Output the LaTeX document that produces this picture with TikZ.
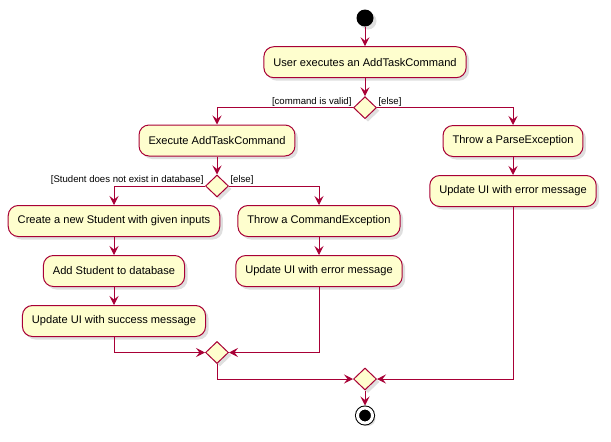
\documentclass[tikz,border=0pt]{standalone}
\usepackage{fontspec}
\setmainfont{Liberation Sans}
\usetikzlibrary{arrows.meta,positioning,shapes.geometric,shadows}
\definecolor{umlred}{RGB}{168,0,54}
\definecolor{umlfill}{RGB}{254,254,206}
\tikzset{
    shadowed/.style={drop shadow={shadow xshift=3pt,shadow yshift=-3pt,opacity=0.25}},
    activity/.style={rectangle,rounded corners=10pt,draw=umlred,fill=umlfill,line width=1pt,minimum height=31pt,inner xsep=9.5pt,font=\fontsize{11.1}{13}\selectfont,shadowed},
    decision/.style={diamond,aspect=1,draw=umlred,fill=umlfill,line width=1pt,minimum width=23pt,minimum height=22pt,inner sep=0pt,shadowed},
    startdot/.style={circle,fill=black,minimum size=17pt,inner sep=0pt,shadowed},
    enddot/.style={circle,draw=black,fill=black,double=white,double distance=3pt,line width=1pt,minimum size=15pt,inner sep=0pt,outer sep=2.5pt,shadowed},
    flow/.style={-{Stealth[length=9pt,width=9pt,inset=3.5pt]},draw=umlred,line width=1pt},
    guard/.style={font=\fontsize{9.6}{11}\selectfont,inner sep=1pt}
}

\begin{document}
\begin{tikzpicture}[x=1pt,y=-1pt,node distance=18pt]
\useasboundingbox (0,0) rectangle (611,442);

\node[startdot] (start) at (365,18) {};
\node[activity] (act user) [below=19.5pt of start] {User executes an AddTaskCommand};
\node[decision] (choice 1) [below=of act user] {};

\node[activity] (act execute) at (217,140.5) {Execute AddTaskCommand};
\node[decision] (choice 2) [below=of act execute] {};
\node[activity] (act parse) at (513,141) {Throw a ParseException};
\node[activity] (act parse error) [below=of act parse] {Update UI with error message};

\node[activity] (act create) at (114,221) {Create a new Student with given inputs};
\node[activity] (act add) [below=of act create] {Add Student to database};
\node[activity] (act success) [below=of act add] {Update UI with success message};
\node[activity] (act throw) at (319,221) {Throw a CommandException};
\node[activity] (act cmd error) [below=of act throw] {Update UI with error message};

\node[decision] (merge 2) at (217,352.5) {};
\node[decision] (merge 1) at (365,379) {};
\node[enddot] (end) [below=15pt of merge 1] {};

\draw[flow] (start) -- (act user);
\draw[flow] (act user) -- (choice 1);
\draw[flow] (choice 1.west) node[guard,above left] {[command is valid]} -| (act execute);
\draw[flow] (choice 1.east) node[guard,above right] {[else]} -| (act parse);
\draw[flow] (act execute) -- (choice 2);
\draw[flow] (act parse) -- (act parse error);
\draw[flow] (choice 2.west) node[guard,above left] {[Student does not exist in database]} -| (act create);
\draw[flow] (choice 2.east) node[guard,above right] {[else]} -| (act throw);
\draw[flow] (act create) -- (act add);
\draw[flow] (act add) -- (act success);
\draw[flow] (act throw) -- (act cmd error);
\draw[flow] (act success) |- (merge 2);
\draw[flow] (act cmd error) |- (merge 2);
\draw[flow] (merge 2) |- (merge 1);
\draw[flow] (act parse error) |- (merge 1);
\draw[flow] (merge 1) -- (end);

\end{tikzpicture}
\end{document}
